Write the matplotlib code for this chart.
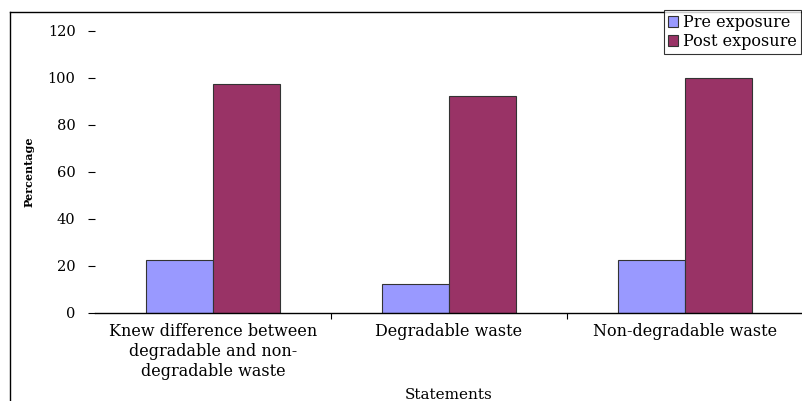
import matplotlib.pyplot as plt
from matplotlib.lines import Line2D
import numpy as np

# data
statements = ["Knew difference between\ndegradable and non-\ndegradable waste",
              "Degradable waste", "Non-degradable waste"]
pre_exposure = [22.5, 12.5, 22.5]
post_exposure = [97.5, 92.5, 100]
y_ticks = [0, 20, 40, 60, 80, 100, 120]

plt.rcParams['font.family'] = ['DejaVu Serif']

fig = plt.figure(figsize=(8.03, 4.01), dpi=100)
ax = fig.add_axes([0.1183, 0.2195, 0.8817, 0.7032])

x = np.arange(len(statements))
w = 0.285
ax.bar(x - w / 2, pre_exposure, w, color='#9999FF', edgecolor='#333333',
       linewidth=0.8, label='Pre exposure')
ax.bar(x + w / 2, post_exposure, w, color='#993366', edgecolor='#333333',
       linewidth=0.8, label='Post exposure')

ax.set_xlim(-0.5, 2.5)
ax.set_ylim(0, 120)
ax.set_yticks(y_ticks)
ax.tick_params(axis='y', length=5, width=0.8, pad=9, labelsize=10.5)
ax.set_xticks(x)
ax.set_xticklabels(statements, fontsize=11.5, linespacing=1.25)
ax.tick_params(axis='x', length=0, pad=7)
ax.set_xticks([0.5, 1.5], minor=True)
ax.tick_params(axis='x', which='minor', length=4, width=0.8)

for side in ['top', 'right', 'left']:
    ax.spines[side].set_visible(False)
ax.spines['bottom'].set_linewidth(1.0)

ax.set_xlabel('Statements', fontsize=11)
ax.xaxis.set_label_coords(0.5, -0.265)
ax.set_ylabel('Percentage', fontsize=8, fontweight='bold')
ax.yaxis.set_label_coords(-0.085, 0.5)

leg = fig.legend(loc='upper right', bbox_to_anchor=(0.997, 0.975), fontsize=11.5,
                 frameon=True, fancybox=False, edgecolor='black',
                 handlelength=0.65, handleheight=0.65, handletextpad=0.3,
                 borderpad=0.25, labelspacing=0.15, borderaxespad=0)
leg.get_frame().set_linewidth(0.8)

# figure border on left and top
fig.add_artist(Line2D([0.0125, 0.0125], [0, 0.970], color='black', lw=1.0,
                      transform=fig.transFigure))
fig.add_artist(Line2D([0.0125, 1.0], [0.970, 0.970], color='black', lw=1.0,
                      transform=fig.transFigure))

fig.savefig('out.png', dpi=100)
